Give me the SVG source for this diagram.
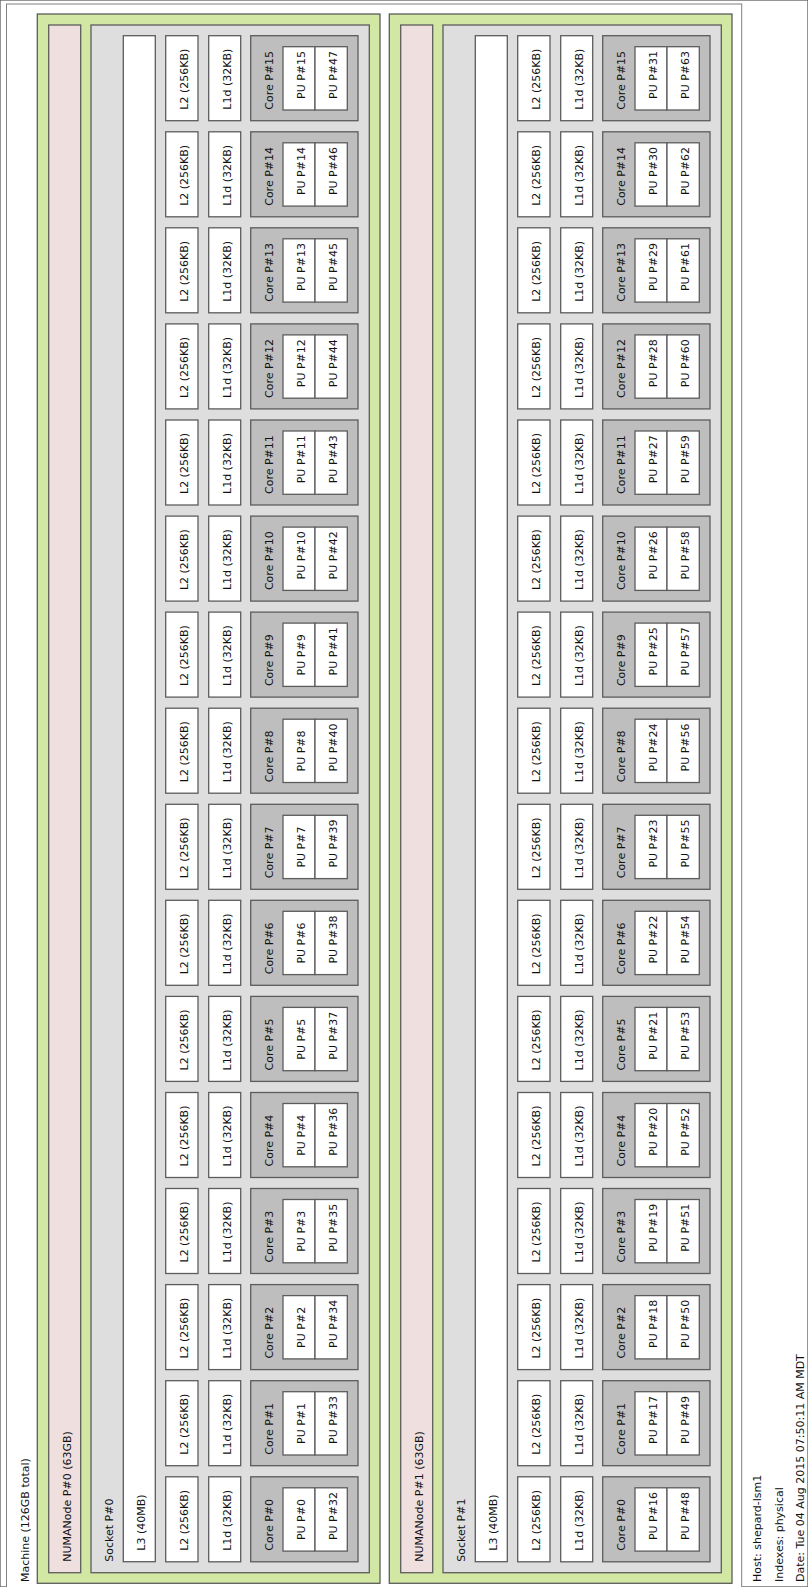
<svg xmlns="http://www.w3.org/2000/svg" width="808" height="1587" viewBox="0 0 808 1587">
<style>
rect{stroke:#5c5c5c;stroke-width:1.3}
.m{fill:#fff;stroke:#808080;stroke-width:1}
.n{fill:#d2e7a4}
.r{fill:#efdfde}
.s{fill:#dedede}
.c{fill:#fff}
.k{fill:#bebebe}
text{font-family:"DejaVu Sans",Verdana,sans-serif;font-size:11px;fill:#111}
</style>
<rect x="0" y="0" width="808" height="1587" fill="#fff" stroke="none"/>
<g id="machine"><rect class="m" x="6.5" y="4" width="735.2" height="1600"/><text transform="translate(28.5 1582)rotate(-90)">Machine (126GB total)</text></g>
<g id="numa0">
<rect class="n" x="37.3" y="14" width="342.7" height="1569.3"/>
<g id="numa0-mem"><rect class="r" x="48.7" y="25" width="32" height="1547.7"/><text transform="translate(70.7 1561.7)rotate(-90)">NUMANode P#0 (63GB)</text></g>
<g id="socket0"><rect class="s" x="91" y="25" width="278.3" height="1547.7"/><text transform="translate(113 1561.7)rotate(-90)">Socket P#0</text></g>
<g id="l3-0"><rect class="c" x="123.3" y="35.7" width="32" height="1526"/><text transform="translate(145.3 1550.7)rotate(-90)">L3 (40MB)</text></g>
</g>
<g id="numa1">
<rect class="n" x="389.3" y="14" width="342.7" height="1569.3"/>
<g id="numa1-mem"><rect class="r" x="400.7" y="25" width="32" height="1547.7"/><text transform="translate(422.7 1561.7)rotate(-90)">NUMANode P#1 (63GB)</text></g>
<g id="socket1"><rect class="s" x="443" y="25" width="278.3" height="1547.7"/><text transform="translate(465 1561.7)rotate(-90)">Socket P#1</text></g>
<g id="l3-1"><rect class="c" x="475.3" y="35.7" width="32" height="1526"/><text transform="translate(497.3 1550.7)rotate(-90)">L3 (40MB)</text></g>
</g>
<g id="cores0">
<g id="s0col0" transform="translate(0 1476.8)"><g id="s0-l2-0"><rect class="c" x="165.7" width="32.3" height="85"/><text transform="translate(187.7 74)rotate(-90)">L2 (256KB)</text></g><g id="s0-l1-0"><rect class="c" x="208.7" width="32" height="85"/><text transform="translate(230.7 74)rotate(-90)">L1d (32KB)</text></g><g id="s0-core-0"><rect class="k" x="250.7" width="107.3" height="85"/><text transform="translate(272.7 74)rotate(-90)">Core P#0</text></g><g id="pu0"><rect class="c" x="283" y="11" width="32" height="63.3"/><text transform="translate(305 63.3)rotate(-90)">PU P#0</text></g><g id="pu32"><rect class="c" x="315" y="11" width="32.3" height="63.3"/><text transform="translate(337 63.3)rotate(-90)">PU P#32</text></g></g>
<g id="s0col1" transform="translate(0 1380.7)"><g id="s0-l2-1"><rect class="c" x="165.7" width="32.3" height="85"/><text transform="translate(187.7 74)rotate(-90)">L2 (256KB)</text></g><g id="s0-l1-1"><rect class="c" x="208.7" width="32" height="85"/><text transform="translate(230.7 74)rotate(-90)">L1d (32KB)</text></g><g id="s0-core-1"><rect class="k" x="250.7" width="107.3" height="85"/><text transform="translate(272.7 74)rotate(-90)">Core P#1</text></g><g id="pu1"><rect class="c" x="283" y="11" width="32" height="63.3"/><text transform="translate(305 63.3)rotate(-90)">PU P#1</text></g><g id="pu33"><rect class="c" x="315" y="11" width="32.3" height="63.3"/><text transform="translate(337 63.3)rotate(-90)">PU P#33</text></g></g>
<g id="s0col2" transform="translate(0 1284.6)"><g id="s0-l2-2"><rect class="c" x="165.7" width="32.3" height="85"/><text transform="translate(187.7 74)rotate(-90)">L2 (256KB)</text></g><g id="s0-l1-2"><rect class="c" x="208.7" width="32" height="85"/><text transform="translate(230.7 74)rotate(-90)">L1d (32KB)</text></g><g id="s0-core-2"><rect class="k" x="250.7" width="107.3" height="85"/><text transform="translate(272.7 74)rotate(-90)">Core P#2</text></g><g id="pu2"><rect class="c" x="283" y="11" width="32" height="63.3"/><text transform="translate(305 63.3)rotate(-90)">PU P#2</text></g><g id="pu34"><rect class="c" x="315" y="11" width="32.3" height="63.3"/><text transform="translate(337 63.3)rotate(-90)">PU P#34</text></g></g>
<g id="s0col3" transform="translate(0 1188.5)"><g id="s0-l2-3"><rect class="c" x="165.7" width="32.3" height="85"/><text transform="translate(187.7 74)rotate(-90)">L2 (256KB)</text></g><g id="s0-l1-3"><rect class="c" x="208.7" width="32" height="85"/><text transform="translate(230.7 74)rotate(-90)">L1d (32KB)</text></g><g id="s0-core-3"><rect class="k" x="250.7" width="107.3" height="85"/><text transform="translate(272.7 74)rotate(-90)">Core P#3</text></g><g id="pu3"><rect class="c" x="283" y="11" width="32" height="63.3"/><text transform="translate(305 63.3)rotate(-90)">PU P#3</text></g><g id="pu35"><rect class="c" x="315" y="11" width="32.3" height="63.3"/><text transform="translate(337 63.3)rotate(-90)">PU P#35</text></g></g>
<g id="s0col4" transform="translate(0 1092.5)"><g id="s0-l2-4"><rect class="c" x="165.7" width="32.3" height="85"/><text transform="translate(187.7 74)rotate(-90)">L2 (256KB)</text></g><g id="s0-l1-4"><rect class="c" x="208.7" width="32" height="85"/><text transform="translate(230.7 74)rotate(-90)">L1d (32KB)</text></g><g id="s0-core-4"><rect class="k" x="250.7" width="107.3" height="85"/><text transform="translate(272.7 74)rotate(-90)">Core P#4</text></g><g id="pu4"><rect class="c" x="283" y="11" width="32" height="63.3"/><text transform="translate(305 63.3)rotate(-90)">PU P#4</text></g><g id="pu36"><rect class="c" x="315" y="11" width="32.3" height="63.3"/><text transform="translate(337 63.3)rotate(-90)">PU P#36</text></g></g>
<g id="s0col5" transform="translate(0 996.4)"><g id="s0-l2-5"><rect class="c" x="165.7" width="32.3" height="85"/><text transform="translate(187.7 74)rotate(-90)">L2 (256KB)</text></g><g id="s0-l1-5"><rect class="c" x="208.7" width="32" height="85"/><text transform="translate(230.7 74)rotate(-90)">L1d (32KB)</text></g><g id="s0-core-5"><rect class="k" x="250.7" width="107.3" height="85"/><text transform="translate(272.7 74)rotate(-90)">Core P#5</text></g><g id="pu5"><rect class="c" x="283" y="11" width="32" height="63.3"/><text transform="translate(305 63.3)rotate(-90)">PU P#5</text></g><g id="pu37"><rect class="c" x="315" y="11" width="32.3" height="63.3"/><text transform="translate(337 63.3)rotate(-90)">PU P#37</text></g></g>
<g id="s0col6" transform="translate(0 900.3)"><g id="s0-l2-6"><rect class="c" x="165.7" width="32.3" height="85"/><text transform="translate(187.7 74)rotate(-90)">L2 (256KB)</text></g><g id="s0-l1-6"><rect class="c" x="208.7" width="32" height="85"/><text transform="translate(230.7 74)rotate(-90)">L1d (32KB)</text></g><g id="s0-core-6"><rect class="k" x="250.7" width="107.3" height="85"/><text transform="translate(272.7 74)rotate(-90)">Core P#6</text></g><g id="pu6"><rect class="c" x="283" y="11" width="32" height="63.3"/><text transform="translate(305 63.3)rotate(-90)">PU P#6</text></g><g id="pu38"><rect class="c" x="315" y="11" width="32.3" height="63.3"/><text transform="translate(337 63.3)rotate(-90)">PU P#38</text></g></g>
<g id="s0col7" transform="translate(0 804.3)"><g id="s0-l2-7"><rect class="c" x="165.7" width="32.3" height="85"/><text transform="translate(187.7 74)rotate(-90)">L2 (256KB)</text></g><g id="s0-l1-7"><rect class="c" x="208.7" width="32" height="85"/><text transform="translate(230.7 74)rotate(-90)">L1d (32KB)</text></g><g id="s0-core-7"><rect class="k" x="250.7" width="107.3" height="85"/><text transform="translate(272.7 74)rotate(-90)">Core P#7</text></g><g id="pu7"><rect class="c" x="283" y="11" width="32" height="63.3"/><text transform="translate(305 63.3)rotate(-90)">PU P#7</text></g><g id="pu39"><rect class="c" x="315" y="11" width="32.3" height="63.3"/><text transform="translate(337 63.3)rotate(-90)">PU P#39</text></g></g>
<g id="s0col8" transform="translate(0 708.2)"><g id="s0-l2-8"><rect class="c" x="165.7" width="32.3" height="85"/><text transform="translate(187.7 74)rotate(-90)">L2 (256KB)</text></g><g id="s0-l1-8"><rect class="c" x="208.7" width="32" height="85"/><text transform="translate(230.7 74)rotate(-90)">L1d (32KB)</text></g><g id="s0-core-8"><rect class="k" x="250.7" width="107.3" height="85"/><text transform="translate(272.7 74)rotate(-90)">Core P#8</text></g><g id="pu8"><rect class="c" x="283" y="11" width="32" height="63.3"/><text transform="translate(305 63.3)rotate(-90)">PU P#8</text></g><g id="pu40"><rect class="c" x="315" y="11" width="32.3" height="63.3"/><text transform="translate(337 63.3)rotate(-90)">PU P#40</text></g></g>
<g id="s0col9" transform="translate(0 612.1)"><g id="s0-l2-9"><rect class="c" x="165.7" width="32.3" height="85"/><text transform="translate(187.7 74)rotate(-90)">L2 (256KB)</text></g><g id="s0-l1-9"><rect class="c" x="208.7" width="32" height="85"/><text transform="translate(230.7 74)rotate(-90)">L1d (32KB)</text></g><g id="s0-core-9"><rect class="k" x="250.7" width="107.3" height="85"/><text transform="translate(272.7 74)rotate(-90)">Core P#9</text></g><g id="pu9"><rect class="c" x="283" y="11" width="32" height="63.3"/><text transform="translate(305 63.3)rotate(-90)">PU P#9</text></g><g id="pu41"><rect class="c" x="315" y="11" width="32.3" height="63.3"/><text transform="translate(337 63.3)rotate(-90)">PU P#41</text></g></g>
<g id="s0col10" transform="translate(0 516.1)"><g id="s0-l2-10"><rect class="c" x="165.7" width="32.3" height="85"/><text transform="translate(187.7 74)rotate(-90)">L2 (256KB)</text></g><g id="s0-l1-10"><rect class="c" x="208.7" width="32" height="85"/><text transform="translate(230.7 74)rotate(-90)">L1d (32KB)</text></g><g id="s0-core-10"><rect class="k" x="250.7" width="107.3" height="85"/><text transform="translate(272.7 74)rotate(-90)">Core P#10</text></g><g id="pu10"><rect class="c" x="283" y="11" width="32" height="63.3"/><text transform="translate(305 63.3)rotate(-90)">PU P#10</text></g><g id="pu42"><rect class="c" x="315" y="11" width="32.3" height="63.3"/><text transform="translate(337 63.3)rotate(-90)">PU P#42</text></g></g>
<g id="s0col11" transform="translate(0 420)"><g id="s0-l2-11"><rect class="c" x="165.7" width="32.3" height="85"/><text transform="translate(187.7 74)rotate(-90)">L2 (256KB)</text></g><g id="s0-l1-11"><rect class="c" x="208.7" width="32" height="85"/><text transform="translate(230.7 74)rotate(-90)">L1d (32KB)</text></g><g id="s0-core-11"><rect class="k" x="250.7" width="107.3" height="85"/><text transform="translate(272.7 74)rotate(-90)">Core P#11</text></g><g id="pu11"><rect class="c" x="283" y="11" width="32" height="63.3"/><text transform="translate(305 63.3)rotate(-90)">PU P#11</text></g><g id="pu43"><rect class="c" x="315" y="11" width="32.3" height="63.3"/><text transform="translate(337 63.3)rotate(-90)">PU P#43</text></g></g>
<g id="s0col12" transform="translate(0 323.9)"><g id="s0-l2-12"><rect class="c" x="165.7" width="32.3" height="85"/><text transform="translate(187.7 74)rotate(-90)">L2 (256KB)</text></g><g id="s0-l1-12"><rect class="c" x="208.7" width="32" height="85"/><text transform="translate(230.7 74)rotate(-90)">L1d (32KB)</text></g><g id="s0-core-12"><rect class="k" x="250.7" width="107.3" height="85"/><text transform="translate(272.7 74)rotate(-90)">Core P#12</text></g><g id="pu12"><rect class="c" x="283" y="11" width="32" height="63.3"/><text transform="translate(305 63.3)rotate(-90)">PU P#12</text></g><g id="pu44"><rect class="c" x="315" y="11" width="32.3" height="63.3"/><text transform="translate(337 63.3)rotate(-90)">PU P#44</text></g></g>
<g id="s0col13" transform="translate(0 227.8)"><g id="s0-l2-13"><rect class="c" x="165.7" width="32.3" height="85"/><text transform="translate(187.7 74)rotate(-90)">L2 (256KB)</text></g><g id="s0-l1-13"><rect class="c" x="208.7" width="32" height="85"/><text transform="translate(230.7 74)rotate(-90)">L1d (32KB)</text></g><g id="s0-core-13"><rect class="k" x="250.7" width="107.3" height="85"/><text transform="translate(272.7 74)rotate(-90)">Core P#13</text></g><g id="pu13"><rect class="c" x="283" y="11" width="32" height="63.3"/><text transform="translate(305 63.3)rotate(-90)">PU P#13</text></g><g id="pu45"><rect class="c" x="315" y="11" width="32.3" height="63.3"/><text transform="translate(337 63.3)rotate(-90)">PU P#45</text></g></g>
<g id="s0col14" transform="translate(0 131.8)"><g id="s0-l2-14"><rect class="c" x="165.7" width="32.3" height="85"/><text transform="translate(187.7 74)rotate(-90)">L2 (256KB)</text></g><g id="s0-l1-14"><rect class="c" x="208.7" width="32" height="85"/><text transform="translate(230.7 74)rotate(-90)">L1d (32KB)</text></g><g id="s0-core-14"><rect class="k" x="250.7" width="107.3" height="85"/><text transform="translate(272.7 74)rotate(-90)">Core P#14</text></g><g id="pu14"><rect class="c" x="283" y="11" width="32" height="63.3"/><text transform="translate(305 63.3)rotate(-90)">PU P#14</text></g><g id="pu46"><rect class="c" x="315" y="11" width="32.3" height="63.3"/><text transform="translate(337 63.3)rotate(-90)">PU P#46</text></g></g>
<g id="s0col15" transform="translate(0 35.7)"><g id="s0-l2-15"><rect class="c" x="165.7" width="32.3" height="85"/><text transform="translate(187.7 74)rotate(-90)">L2 (256KB)</text></g><g id="s0-l1-15"><rect class="c" x="208.7" width="32" height="85"/><text transform="translate(230.7 74)rotate(-90)">L1d (32KB)</text></g><g id="s0-core-15"><rect class="k" x="250.7" width="107.3" height="85"/><text transform="translate(272.7 74)rotate(-90)">Core P#15</text></g><g id="pu15"><rect class="c" x="283" y="11" width="32" height="63.3"/><text transform="translate(305 63.3)rotate(-90)">PU P#15</text></g><g id="pu47"><rect class="c" x="315" y="11" width="32.3" height="63.3"/><text transform="translate(337 63.3)rotate(-90)">PU P#47</text></g></g>
</g>
<g id="cores1">
<g id="s1col0" transform="translate(352 1476.8)"><g id="s1-l2-0"><rect class="c" x="165.7" width="32.3" height="85"/><text transform="translate(187.7 74)rotate(-90)">L2 (256KB)</text></g><g id="s1-l1-0"><rect class="c" x="208.7" width="32" height="85"/><text transform="translate(230.7 74)rotate(-90)">L1d (32KB)</text></g><g id="s1-core-0"><rect class="k" x="250.7" width="107.3" height="85"/><text transform="translate(272.7 74)rotate(-90)">Core P#0</text></g><g id="pu16"><rect class="c" x="283" y="11" width="32" height="63.3"/><text transform="translate(305 63.3)rotate(-90)">PU P#16</text></g><g id="pu48"><rect class="c" x="315" y="11" width="32.3" height="63.3"/><text transform="translate(337 63.3)rotate(-90)">PU P#48</text></g></g>
<g id="s1col1" transform="translate(352 1380.7)"><g id="s1-l2-1"><rect class="c" x="165.7" width="32.3" height="85"/><text transform="translate(187.7 74)rotate(-90)">L2 (256KB)</text></g><g id="s1-l1-1"><rect class="c" x="208.7" width="32" height="85"/><text transform="translate(230.7 74)rotate(-90)">L1d (32KB)</text></g><g id="s1-core-1"><rect class="k" x="250.7" width="107.3" height="85"/><text transform="translate(272.7 74)rotate(-90)">Core P#1</text></g><g id="pu17"><rect class="c" x="283" y="11" width="32" height="63.3"/><text transform="translate(305 63.3)rotate(-90)">PU P#17</text></g><g id="pu49"><rect class="c" x="315" y="11" width="32.3" height="63.3"/><text transform="translate(337 63.3)rotate(-90)">PU P#49</text></g></g>
<g id="s1col2" transform="translate(352 1284.6)"><g id="s1-l2-2"><rect class="c" x="165.7" width="32.3" height="85"/><text transform="translate(187.7 74)rotate(-90)">L2 (256KB)</text></g><g id="s1-l1-2"><rect class="c" x="208.7" width="32" height="85"/><text transform="translate(230.7 74)rotate(-90)">L1d (32KB)</text></g><g id="s1-core-2"><rect class="k" x="250.7" width="107.3" height="85"/><text transform="translate(272.7 74)rotate(-90)">Core P#2</text></g><g id="pu18"><rect class="c" x="283" y="11" width="32" height="63.3"/><text transform="translate(305 63.3)rotate(-90)">PU P#18</text></g><g id="pu50"><rect class="c" x="315" y="11" width="32.3" height="63.3"/><text transform="translate(337 63.3)rotate(-90)">PU P#50</text></g></g>
<g id="s1col3" transform="translate(352 1188.5)"><g id="s1-l2-3"><rect class="c" x="165.7" width="32.3" height="85"/><text transform="translate(187.7 74)rotate(-90)">L2 (256KB)</text></g><g id="s1-l1-3"><rect class="c" x="208.7" width="32" height="85"/><text transform="translate(230.7 74)rotate(-90)">L1d (32KB)</text></g><g id="s1-core-3"><rect class="k" x="250.7" width="107.3" height="85"/><text transform="translate(272.7 74)rotate(-90)">Core P#3</text></g><g id="pu19"><rect class="c" x="283" y="11" width="32" height="63.3"/><text transform="translate(305 63.3)rotate(-90)">PU P#19</text></g><g id="pu51"><rect class="c" x="315" y="11" width="32.3" height="63.3"/><text transform="translate(337 63.3)rotate(-90)">PU P#51</text></g></g>
<g id="s1col4" transform="translate(352 1092.5)"><g id="s1-l2-4"><rect class="c" x="165.7" width="32.3" height="85"/><text transform="translate(187.7 74)rotate(-90)">L2 (256KB)</text></g><g id="s1-l1-4"><rect class="c" x="208.7" width="32" height="85"/><text transform="translate(230.7 74)rotate(-90)">L1d (32KB)</text></g><g id="s1-core-4"><rect class="k" x="250.7" width="107.3" height="85"/><text transform="translate(272.7 74)rotate(-90)">Core P#4</text></g><g id="pu20"><rect class="c" x="283" y="11" width="32" height="63.3"/><text transform="translate(305 63.3)rotate(-90)">PU P#20</text></g><g id="pu52"><rect class="c" x="315" y="11" width="32.3" height="63.3"/><text transform="translate(337 63.3)rotate(-90)">PU P#52</text></g></g>
<g id="s1col5" transform="translate(352 996.4)"><g id="s1-l2-5"><rect class="c" x="165.7" width="32.3" height="85"/><text transform="translate(187.7 74)rotate(-90)">L2 (256KB)</text></g><g id="s1-l1-5"><rect class="c" x="208.7" width="32" height="85"/><text transform="translate(230.7 74)rotate(-90)">L1d (32KB)</text></g><g id="s1-core-5"><rect class="k" x="250.7" width="107.3" height="85"/><text transform="translate(272.7 74)rotate(-90)">Core P#5</text></g><g id="pu21"><rect class="c" x="283" y="11" width="32" height="63.3"/><text transform="translate(305 63.3)rotate(-90)">PU P#21</text></g><g id="pu53"><rect class="c" x="315" y="11" width="32.3" height="63.3"/><text transform="translate(337 63.3)rotate(-90)">PU P#53</text></g></g>
<g id="s1col6" transform="translate(352 900.3)"><g id="s1-l2-6"><rect class="c" x="165.7" width="32.3" height="85"/><text transform="translate(187.7 74)rotate(-90)">L2 (256KB)</text></g><g id="s1-l1-6"><rect class="c" x="208.7" width="32" height="85"/><text transform="translate(230.7 74)rotate(-90)">L1d (32KB)</text></g><g id="s1-core-6"><rect class="k" x="250.7" width="107.3" height="85"/><text transform="translate(272.7 74)rotate(-90)">Core P#6</text></g><g id="pu22"><rect class="c" x="283" y="11" width="32" height="63.3"/><text transform="translate(305 63.3)rotate(-90)">PU P#22</text></g><g id="pu54"><rect class="c" x="315" y="11" width="32.3" height="63.3"/><text transform="translate(337 63.3)rotate(-90)">PU P#54</text></g></g>
<g id="s1col7" transform="translate(352 804.3)"><g id="s1-l2-7"><rect class="c" x="165.7" width="32.3" height="85"/><text transform="translate(187.7 74)rotate(-90)">L2 (256KB)</text></g><g id="s1-l1-7"><rect class="c" x="208.7" width="32" height="85"/><text transform="translate(230.7 74)rotate(-90)">L1d (32KB)</text></g><g id="s1-core-7"><rect class="k" x="250.7" width="107.3" height="85"/><text transform="translate(272.7 74)rotate(-90)">Core P#7</text></g><g id="pu23"><rect class="c" x="283" y="11" width="32" height="63.3"/><text transform="translate(305 63.3)rotate(-90)">PU P#23</text></g><g id="pu55"><rect class="c" x="315" y="11" width="32.3" height="63.3"/><text transform="translate(337 63.3)rotate(-90)">PU P#55</text></g></g>
<g id="s1col8" transform="translate(352 708.2)"><g id="s1-l2-8"><rect class="c" x="165.7" width="32.3" height="85"/><text transform="translate(187.7 74)rotate(-90)">L2 (256KB)</text></g><g id="s1-l1-8"><rect class="c" x="208.7" width="32" height="85"/><text transform="translate(230.7 74)rotate(-90)">L1d (32KB)</text></g><g id="s1-core-8"><rect class="k" x="250.7" width="107.3" height="85"/><text transform="translate(272.7 74)rotate(-90)">Core P#8</text></g><g id="pu24"><rect class="c" x="283" y="11" width="32" height="63.3"/><text transform="translate(305 63.3)rotate(-90)">PU P#24</text></g><g id="pu56"><rect class="c" x="315" y="11" width="32.3" height="63.3"/><text transform="translate(337 63.3)rotate(-90)">PU P#56</text></g></g>
<g id="s1col9" transform="translate(352 612.1)"><g id="s1-l2-9"><rect class="c" x="165.7" width="32.3" height="85"/><text transform="translate(187.7 74)rotate(-90)">L2 (256KB)</text></g><g id="s1-l1-9"><rect class="c" x="208.7" width="32" height="85"/><text transform="translate(230.7 74)rotate(-90)">L1d (32KB)</text></g><g id="s1-core-9"><rect class="k" x="250.7" width="107.3" height="85"/><text transform="translate(272.7 74)rotate(-90)">Core P#9</text></g><g id="pu25"><rect class="c" x="283" y="11" width="32" height="63.3"/><text transform="translate(305 63.3)rotate(-90)">PU P#25</text></g><g id="pu57"><rect class="c" x="315" y="11" width="32.3" height="63.3"/><text transform="translate(337 63.3)rotate(-90)">PU P#57</text></g></g>
<g id="s1col10" transform="translate(352 516.1)"><g id="s1-l2-10"><rect class="c" x="165.7" width="32.3" height="85"/><text transform="translate(187.7 74)rotate(-90)">L2 (256KB)</text></g><g id="s1-l1-10"><rect class="c" x="208.7" width="32" height="85"/><text transform="translate(230.7 74)rotate(-90)">L1d (32KB)</text></g><g id="s1-core-10"><rect class="k" x="250.7" width="107.3" height="85"/><text transform="translate(272.7 74)rotate(-90)">Core P#10</text></g><g id="pu26"><rect class="c" x="283" y="11" width="32" height="63.3"/><text transform="translate(305 63.3)rotate(-90)">PU P#26</text></g><g id="pu58"><rect class="c" x="315" y="11" width="32.3" height="63.3"/><text transform="translate(337 63.3)rotate(-90)">PU P#58</text></g></g>
<g id="s1col11" transform="translate(352 420)"><g id="s1-l2-11"><rect class="c" x="165.7" width="32.3" height="85"/><text transform="translate(187.7 74)rotate(-90)">L2 (256KB)</text></g><g id="s1-l1-11"><rect class="c" x="208.7" width="32" height="85"/><text transform="translate(230.7 74)rotate(-90)">L1d (32KB)</text></g><g id="s1-core-11"><rect class="k" x="250.7" width="107.3" height="85"/><text transform="translate(272.7 74)rotate(-90)">Core P#11</text></g><g id="pu27"><rect class="c" x="283" y="11" width="32" height="63.3"/><text transform="translate(305 63.3)rotate(-90)">PU P#27</text></g><g id="pu59"><rect class="c" x="315" y="11" width="32.3" height="63.3"/><text transform="translate(337 63.3)rotate(-90)">PU P#59</text></g></g>
<g id="s1col12" transform="translate(352 323.9)"><g id="s1-l2-12"><rect class="c" x="165.7" width="32.3" height="85"/><text transform="translate(187.7 74)rotate(-90)">L2 (256KB)</text></g><g id="s1-l1-12"><rect class="c" x="208.7" width="32" height="85"/><text transform="translate(230.7 74)rotate(-90)">L1d (32KB)</text></g><g id="s1-core-12"><rect class="k" x="250.7" width="107.3" height="85"/><text transform="translate(272.7 74)rotate(-90)">Core P#12</text></g><g id="pu28"><rect class="c" x="283" y="11" width="32" height="63.3"/><text transform="translate(305 63.3)rotate(-90)">PU P#28</text></g><g id="pu60"><rect class="c" x="315" y="11" width="32.3" height="63.3"/><text transform="translate(337 63.3)rotate(-90)">PU P#60</text></g></g>
<g id="s1col13" transform="translate(352 227.8)"><g id="s1-l2-13"><rect class="c" x="165.7" width="32.3" height="85"/><text transform="translate(187.7 74)rotate(-90)">L2 (256KB)</text></g><g id="s1-l1-13"><rect class="c" x="208.7" width="32" height="85"/><text transform="translate(230.7 74)rotate(-90)">L1d (32KB)</text></g><g id="s1-core-13"><rect class="k" x="250.7" width="107.3" height="85"/><text transform="translate(272.7 74)rotate(-90)">Core P#13</text></g><g id="pu29"><rect class="c" x="283" y="11" width="32" height="63.3"/><text transform="translate(305 63.3)rotate(-90)">PU P#29</text></g><g id="pu61"><rect class="c" x="315" y="11" width="32.3" height="63.3"/><text transform="translate(337 63.3)rotate(-90)">PU P#61</text></g></g>
<g id="s1col14" transform="translate(352 131.8)"><g id="s1-l2-14"><rect class="c" x="165.7" width="32.3" height="85"/><text transform="translate(187.7 74)rotate(-90)">L2 (256KB)</text></g><g id="s1-l1-14"><rect class="c" x="208.7" width="32" height="85"/><text transform="translate(230.7 74)rotate(-90)">L1d (32KB)</text></g><g id="s1-core-14"><rect class="k" x="250.7" width="107.3" height="85"/><text transform="translate(272.7 74)rotate(-90)">Core P#14</text></g><g id="pu30"><rect class="c" x="283" y="11" width="32" height="63.3"/><text transform="translate(305 63.3)rotate(-90)">PU P#30</text></g><g id="pu62"><rect class="c" x="315" y="11" width="32.3" height="63.3"/><text transform="translate(337 63.3)rotate(-90)">PU P#62</text></g></g>
<g id="s1col15" transform="translate(352 35.7)"><g id="s1-l2-15"><rect class="c" x="165.7" width="32.3" height="85"/><text transform="translate(187.7 74)rotate(-90)">L2 (256KB)</text></g><g id="s1-l1-15"><rect class="c" x="208.7" width="32" height="85"/><text transform="translate(230.7 74)rotate(-90)">L1d (32KB)</text></g><g id="s1-core-15"><rect class="k" x="250.7" width="107.3" height="85"/><text transform="translate(272.7 74)rotate(-90)">Core P#15</text></g><g id="pu31"><rect class="c" x="283" y="11" width="32" height="63.3"/><text transform="translate(305 63.3)rotate(-90)">PU P#31</text></g><g id="pu63"><rect class="c" x="315" y="11" width="32.3" height="63.3"/><text transform="translate(337 63.3)rotate(-90)">PU P#63</text></g></g>
</g>
<g id="legend">
<text transform="translate(761 1582)rotate(-90)">Host: shepard-lsm1</text>
<text transform="translate(782.6 1582)rotate(-90)">Indexes: physical</text>
<text transform="translate(804.3 1582)rotate(-90)">Date: Tue 04 Aug 2015 07:50:11 AM MDT</text>
</g>
<g id="connectors"/>
</svg>
